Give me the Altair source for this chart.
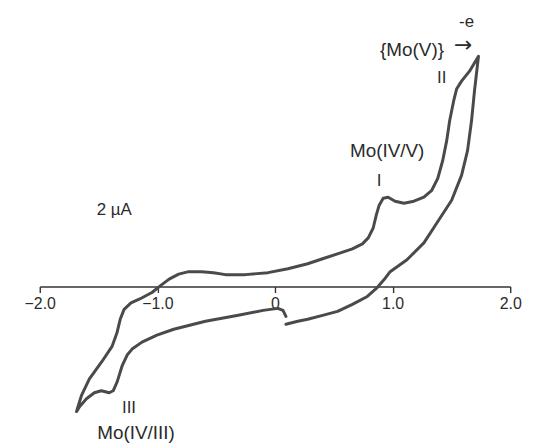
import altair as alt
import pandas as pd

# Cyclic voltammogram (potential in V, current in µA-like units)
potential = [
    0.093, 0.194, 0.278, 0.405, 0.532, 0.658, 0.785, 0.869, 0.928, 0.979,
    1.122, 1.266, 1.376, 1.502, 1.586, 1.637, 1.671, 1.696, 1.730,
    1.654, 1.586, 1.544, 1.519, 1.485, 1.460, 1.426, 1.384, 1.333, 1.266,
    1.181, 1.097, 1.021, 0.962, 0.920, 0.886, 0.861, 0.835, 0.793, 0.743,
    0.658, 0.557, 0.405, 0.278, 0.110, -0.059, -0.253, -0.422, -0.523, -0.624,
    -0.734, -0.819, -0.900, -0.962, -1.046, -1.150, -1.224, -1.283, -1.316, -1.342,
    -1.384, -1.468, -1.578, -1.646, -1.688,
    -1.662, -1.603, -1.536, -1.477, -1.409, -1.376, -1.342, -1.300, -1.257,
    -1.215, -1.131, -1.004, -0.861, -0.591, -0.312, -0.101, 0.025, 0.068, 0.093,
]
current = [
    -1.52, -1.40, -1.32, -1.16, -1.00, -0.72, -0.40, -0.04, 0.28, 0.60,
    1.08, 1.76, 2.56, 3.48, 4.48, 5.48, 6.68, 7.88, 9.28,
    8.68, 8.28, 7.96, 7.48, 6.68, 5.88, 5.08, 4.36, 3.88, 3.60,
    3.44, 3.36, 3.44, 3.60, 3.56, 3.28, 2.88, 2.36, 1.96, 1.72,
    1.52, 1.36, 1.12, 0.92, 0.72, 0.56, 0.48, 0.48, 0.56, 0.60,
    0.60, 0.50, 0.30, 0.08, -0.24, -0.50, -0.66, -0.92, -1.32, -1.84,
    -2.40, -3.00, -3.72, -4.40, -5.04,
    -4.84, -4.52, -4.28, -4.20, -4.28, -4.20, -3.84, -3.20, -2.76,
    -2.52, -2.24, -1.96, -1.72, -1.40, -1.16, -0.96, -0.88, -0.96, -1.20,
]

tick_values = [-2.0, -1.0, 0.0, 1.0, 2.0]

label_text = ["{Mo(V)}", "Mo(IV/V)", "Mo(IV/III)"]
label_x = [1.165, 0.954, -1.181]
label_y = [9.52, 5.48, -5.90]

small_text = ["-e", "2 \u00b5A"]
small_x = [1.629, -1.367]
small_y = [10.68, 3.08]

arrow_text = ["\u2192"]
arrow_x = [1.600]
arrow_y = [9.72]

roman_text = ["I", "II", "III"]
roman_x = [0.886, 1.418, -1.241]
roman_y = [4.24, 8.40, -4.88]

df = pd.DataFrame({"E": potential, "I": current, "order": list(range(len(potential)))})

x_scale = alt.Scale(domain=[-2, 2], nice=False, zero=False)
y_scale = alt.Scale(domain=[-6.36, 11.16], nice=False, zero=False)

curve = alt.Chart(df).mark_line(
    color="#4a4a4a", strokeWidth=3, strokeJoin="round", strokeCap="round"
).encode(
    x=alt.X("E:Q", scale=x_scale, axis=alt.Axis(
        values=tick_values, title=None, grid=False, offset=-159,
        labelExpr="datum.value == 0 ? '0' : format(datum.value, '.1f')",
        domainColor="#333333", domainWidth=1.4, tickColor="#333333", tickWidth=1.4,
        tickSize=6, labelFont="Liberation Sans", labelFontSize=16,
        labelColor="#2b2b2b", labelPadding=3, labelFlush=False, labelOverlap=False)),
    y=alt.Y("I:Q", scale=y_scale, axis=None),
    order="order:Q",
)


def text_layer(texts, xs, ys, size, font="Liberation Sans"):
    d = pd.DataFrame({"t": texts, "x": xs, "y": ys})
    return alt.Chart(d).mark_text(font=font, fontSize=size, color="#2b2b2b").encode(
        x=alt.X("x:Q", scale=x_scale), y=alt.Y("y:Q", scale=y_scale), text="t:N"
    )


labels = text_layer(label_text, label_x, label_y, 19)
smalls = text_layer(small_text, small_x, small_y, 17)
arrows = text_layer(arrow_text, arrow_x, arrow_y, 22, font="DejaVu Sans")
romans = text_layer(roman_text, roman_x, roman_y, 17)

chart = alt.layer(curve, labels, smalls, arrows, romans).properties(
    width=474, height=438,
    background="white",
    autosize=alt.AutoSizeParams(type="none"),
    padding={"left": 32, "top": 0, "right": 30, "bottom": 0},
).configure_view(strokeWidth=0, stroke=None)

chart.save("out.html", embed_options={"renderer": "svg", "actions": False})
